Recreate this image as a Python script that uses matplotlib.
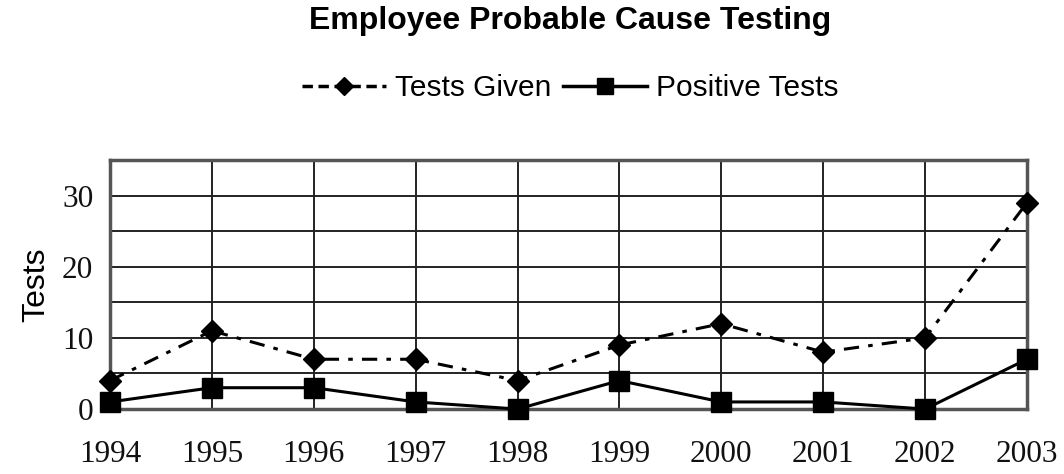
import matplotlib
matplotlib.use("Agg")
import matplotlib.pyplot as plt
from matplotlib.lines import Line2D

years = [1994, 1995, 1996, 1997, 1998, 1999, 2000, 2001, 2002, 2003]
tests_given = [4, 11, 7, 7, 4, 9, 12, 8, 10, 29]
positive_tests = [1, 3, 3, 1, 0, 4, 1, 1, 0, 7]
y_ticks = [0, 10, 20, 30]

fig = plt.figure(figsize=(10.64, 4.74), dpi=100)
ax = fig.add_axes([0.1034, 0.137, 0.8618, 0.5254])

ax.set_xlim(1994, 2003)
ax.set_ylim(0, 35)
ax.set_xticks(years)
ax.set_yticks(y_ticks)
ax.set_yticks(range(0, 36, 5), minor=True)
ax.grid(True, which="major", axis="both", color="#222222", linewidth=1.4)
ax.grid(True, which="minor", axis="y", color="#222222", linewidth=1.4)
ax.set_axisbelow(True)
ax.tick_params(which="both", length=0)
ax.tick_params(axis="x", pad=22, labelsize=22.5)
ax.tick_params(axis="y", pad=12, labelsize=22.5)
for lab in ax.get_xticklabels() + ax.get_yticklabels():
    lab.set_fontfamily("Liberation Serif")
    lab.set_color("#111111")
for s in ax.spines.values():
    s.set_color("#555555")
    s.set_linewidth(2.5)

ax.plot(years, tests_given, color="black", linewidth=2.2, dashes=(5, 3, 1.5, 3),
        marker="D", markersize=11, clip_on=False, zorder=3)
ax.plot(years, positive_tests, color="black", linewidth=2.2, linestyle="-",
        marker="s", markersize=15, clip_on=False, zorder=4)

ax.set_ylabel("Tests", fontsize=23, fontfamily="Liberation Sans", labelpad=8)

fig.text(0.536, 0.955, "Employee Probable Cause Testing", ha="center", va="center",
         fontsize=23, fontweight="bold", fontfamily="Liberation Sans")

h1 = Line2D([], [], color="black", linewidth=2.5, dashes=(3, 1.6), marker="D", markersize=9)
h2 = Line2D([], [], color="black", linewidth=2.5, linestyle="-", marker="s", markersize=12)
leg = fig.legend([h1, h2], ["Tests Given", "Positive Tests"], loc="center",
                 bbox_to_anchor=(0.536, 0.814), ncol=2, frameon=False,
                 prop={"family": "Liberation Sans", "size": 21.5},
                 handlelength=2.8, columnspacing=0.4, handletextpad=0.3)

fig.savefig("out.png", dpi=100, facecolor="white")
